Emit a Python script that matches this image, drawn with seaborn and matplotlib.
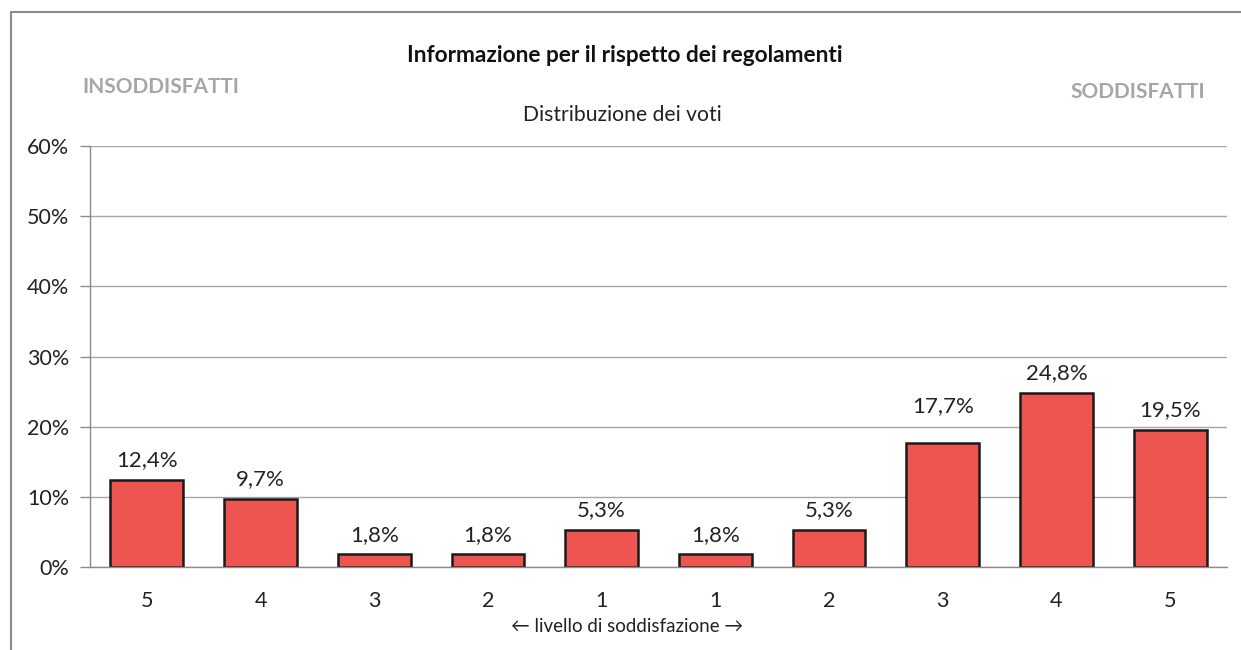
import matplotlib
matplotlib.use("Agg")
import matplotlib.pyplot as plt
import seaborn as sns
import pandas as pd
import numpy as np
from matplotlib.patches import Rectangle

categories = ["5", "4", "3", "2", "1", "1", "2", "3", "4", "5"]
values = [12.4, 9.7, 1.8, 1.8, 5.3, 1.8, 5.3, 17.7, 24.8, 19.5]
value_labels = ["12,4%", "9,7%", "1,8%", "1,8%", "5,3%", "1,8%", "5,3%", "17,7%", "24,8%", "19,5%"]
yticks = [0, 10, 20, 30, 40, 50, 60]
ytick_labels = ["0%", "10%", "20%", "30%", "40%", "50%", "60%"]

sns.set_theme(style="white")
plt.rcParams['font.family'] = ['Lato', 'DejaVu Sans']

df = pd.DataFrame({"pos": [str(i) for i in range(len(values))], "val": values})

fig = plt.figure(figsize=(12.41, 6.5), dpi=100)
ax = fig.add_axes([90/1241, 1-567/650, (1227-90)/1241, (567-146)/650])

sns.barplot(data=df, x="pos", y="val", color="#EE5450", saturation=1,
            edgecolor="#1a1a1a", linewidth=1.8, width=0.64, ax=ax)

ax.set_ylim(0, 60)
ax.set_xlim(-0.5, len(values) - 0.5)
ax.set_yticks(yticks)
ax.set_yticklabels(ytick_labels, fontsize=15.5, color="#222222")
ax.set_xticks(range(len(values)))
ax.set_xticklabels(categories, fontsize=15.5, color="#222222")
ax.set_xticks(np.arange(-0.5, len(values), 1.0), minor=True)
ax.tick_params(axis="x", which="major", length=0, pad=17)
ax.tick_params(axis="x", which="minor", length=7, width=1, color="#8c8c8c", direction="out")
ax.tick_params(axis="y", length=7, width=1, color="#8c8c8c", direction="out", left=True, pad=8)
ax.yaxis.grid(True, color="#a6a6a6", linewidth=1)
ax.set_axisbelow(True)
for s in ["top", "right"]:
    ax.spines[s].set_visible(False)
for s in ["left", "bottom"]:
    ax.spines[s].set_color("#8c8c8c")
    ax.spines[s].set_linewidth(1)
ax.set_xlabel("← livello di soddisfazione →", fontsize=13.5, color="#222222")
ax.xaxis.label.set_va("center")
ax.xaxis.set_label_coords((627 - 90) / 1137, (567 - 627) / 421)
ax.set_ylabel("")

# label offset (points); the "17,7%" label sits higher in the original
label_offset = {7: 19}
for i, (p, lab) in enumerate(zip(ax.patches, value_labels)):
    ax.annotate(lab, (p.get_x() + p.get_width() / 2, p.get_height()),
                xytext=(0, label_offset.get(i, 7)), textcoords="offset points",
                ha="center", va="bottom", fontsize=16, color="#222222")

fig.text(625/1241, 1 - 55/650, "Informazione per il rispetto dei regolamenti",
         ha="center", va="center", fontsize=16.3, fontweight="bold", color="#111111")
fig.text(622/1241, 1 - 115/650, "Distribuzione dei voti",
         ha="center", va="center", fontsize=15.2, color="#222222")
fig.text(82/1241, 1 - 87/650, "INSODDISFATTI", ha="left", va="center",
         fontsize=15, fontweight="bold", color="#a6a6a6")
fig.text(1205/1241, 1 - 92/650, "SODDISFATTI", ha="right", va="center",
         fontsize=15, fontweight="bold", color="#a6a6a6")

fig.patches.append(Rectangle((11/1241, -0.1), 1.2, 1 - 12/650 + 0.1,
                             transform=fig.transFigure, fill=False,
                             edgecolor="#8c8c8c", linewidth=1.5))

fig.savefig("out.png", dpi=100)
